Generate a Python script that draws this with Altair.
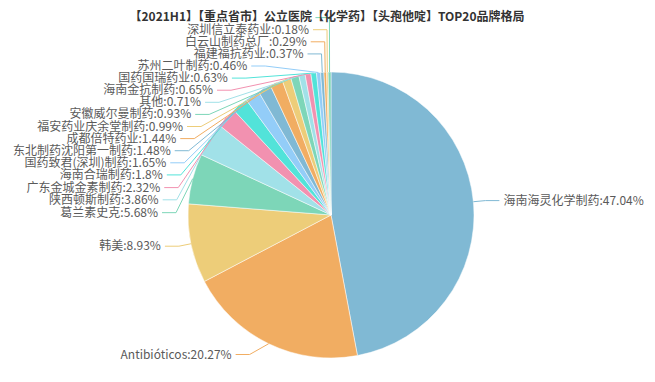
import math
import altair as alt
import pandas as pd

# ---------------- data ----------------
title_text = "【2021H1】【重点省市】公立医院【化学药】【头孢他啶】TOP20品牌格局"
names = ["海南海灵化学制药", "Antibióticos", "韩美", "葛兰素史克", "陕西顿斯制药",
         "广东金城金素制药", "海南合瑞制药", "国药致君(深圳)制药", "东北制药沈阳第一制药",
         "成都倍特药业", "福安药业庆余堂制药", "安徽威尔曼制药", "其他", "海南金抗制药",
         "国药国瑞药业", "苏州二叶制药", "福建福抗药业", "白云山制药总厂", "深圳信立泰药业", ""]
values = [47.04, 20.27, 8.93, 5.68, 3.86, 2.32, 1.8, 1.65, 1.48, 1.44,
          0.99, 0.93, 0.71, 0.65, 0.63, 0.46, 0.37, 0.29, 0.18, 0.32]
palette = ["#80b9d4", "#f1ad62", "#edcd79", "#7dd6b8", "#a1e1e8", "#f291b0", "#52e3d9", "#93cdf8"]

# ---------------- layout params ----------------
W, H = 655, 382
CX, CY, R = 331, 215, 143
L1, L2 = 12, 14
LINE_H = 12.1
GAP = 4

total = sum(values)
colors = [palette[i % len(palette)] for i in range(len(values))]

items = []
cum = 0.0
for i, (n, v) in enumerate(zip(names, values)):
    mid = (cum + v / 2) / total * 2 * math.pi
    cum += v
    s, c = math.sin(mid), math.cos(mid)
    d = 1 if s > 0 else -1
    bx, by = CX + (R + L1) * s, CY - (R + L1) * c
    items.append(dict(i=i, name=n, value=v, dir=d,
                      sx=CX + R * s, sy=CY - R * c,
                      x=bx + d * L2, y=by))


def adjust(lst, d):
    lst.sort(key=lambda it: it["y"])
    n = len(lst)

    def shift_up(end, delta):
        for j in range(end, -1, -1):
            if lst[j]["y"] - delta < 0:
                break
            lst[j]["y"] -= delta
            if j > 0 and lst[j]["y"] > lst[j - 1]["y"] + LINE_H:
                break

    def shift_down(start, end, delta):
        for j in range(start, end):
            if lst[j]["y"] + delta > H:
                break
            lst[j]["y"] += delta
            if j > start and j + 1 < end and lst[j + 1]["y"] > lst[j]["y"] + LINE_H:
                shift_up(j, delta / 2)
                return
        shift_up(end - 1, delta / 2)

    last_y = 0
    for k in range(n):
        delta = lst[k]["y"] - last_y
        if delta < 0:
            shift_down(k, n, -delta)
        last_y = lst[k]["y"] + LINE_H

    up = [it for it in lst if it["y"] < CY]
    down = [it for it in lst if it["y"] >= CY]
    for group, is_down in ((up, False), (down, True)):
        last = float("inf") if is_down else 0
        for it in group:
            dy = abs(it["y"] - CY)
            if dy < R + L1:
                dx = math.sqrt((R + L1 + L2) ** 2 - dy ** 2)
            else:
                dx = abs(it["x"] - CX)
            if is_down and dx >= last:
                dx = last - 10
            if (not is_down) and dx <= last:
                dx = last + 10
            it["x"] = CX + dx * d
            last = dx


adjust([it for it in items if it["dir"] < 0], -1)
adjust([it for it in items if it["dir"] > 0], 1)

line_rows, text_rows = [], []
for it in items:
    d = it["dir"]
    pts = [(it["sx"], it["sy"]), (it["x"] - d * L2, it["y"]), (it["x"], it["y"])]
    for k, (px, py) in enumerate(pts):
        line_rows.append(dict(name=str(it["i"]), k=k, px=px, py=py, color=colors[it["i"]]))
    if it["name"]:
        text_rows.append(dict(label=f'{it["name"]}:{it["value"]}%', tx=it["x"] + d * GAP,
                              ty=it["y"], side="right" if d > 0 else "left"))

pie_df = pd.DataFrame({"name": names, "value": values, "idx": list(range(len(values))), "color": colors})
line_df = pd.DataFrame(line_rows)
text_df = pd.DataFrame(text_rows)

xs = alt.Scale(domain=[0, W])
ys = alt.Scale(domain=[0, H], reverse=True)
FONT = "Noto Sans CJK SC"

pie = alt.Chart(pie_df).mark_arc(outerRadius=R, stroke="white", strokeWidth=0.5).encode(
    theta=alt.Theta("value:Q", stack=True),
    order=alt.Order("idx:Q", sort="ascending"),
    color=alt.Color("color:N", scale=None),
    x=alt.value(CX), y=alt.value(CY),
)

lines = alt.Chart(line_df).mark_line(strokeWidth=1).encode(
    x=alt.X("px:Q", scale=xs, axis=None),
    y=alt.Y("py:Q", scale=ys, axis=None),
    detail="name:N",
    order="k:Q",
    color=alt.Color("color:N", scale=None),
)

left_text = alt.Chart(text_df).transform_filter(alt.datum.side == "left").mark_text(
    align="right", baseline="middle", font=FONT, fontSize=12, color="#5a5a5a"
).encode(x=alt.X("tx:Q", scale=xs, axis=None), y=alt.Y("ty:Q", scale=ys, axis=None), text="label:N")

right_text = alt.Chart(text_df).transform_filter(alt.datum.side == "right").mark_text(
    align="left", baseline="middle", font=FONT, fontSize=12, color="#5a5a5a"
).encode(x=alt.X("tx:Q", scale=xs, axis=None), y=alt.Y("ty:Q", scale=ys, axis=None), text="label:N")

title = alt.Chart(pd.DataFrame({"t": [title_text]})).mark_text(
    align="center", baseline="middle", font=FONT, fontSize=12, fontWeight="bold", color="#333333"
).encode(x=alt.value(327), y=alt.value(17), text="t:N")

chart = alt.layer(pie, lines, left_text, right_text, title).properties(
    width=W, height=H, padding=0, autosize=alt.AutoSizeParams(type="none")
).configure_view(stroke=None)

chart.save("out.html", embed_options={"renderer": "svg", "actions": False})
